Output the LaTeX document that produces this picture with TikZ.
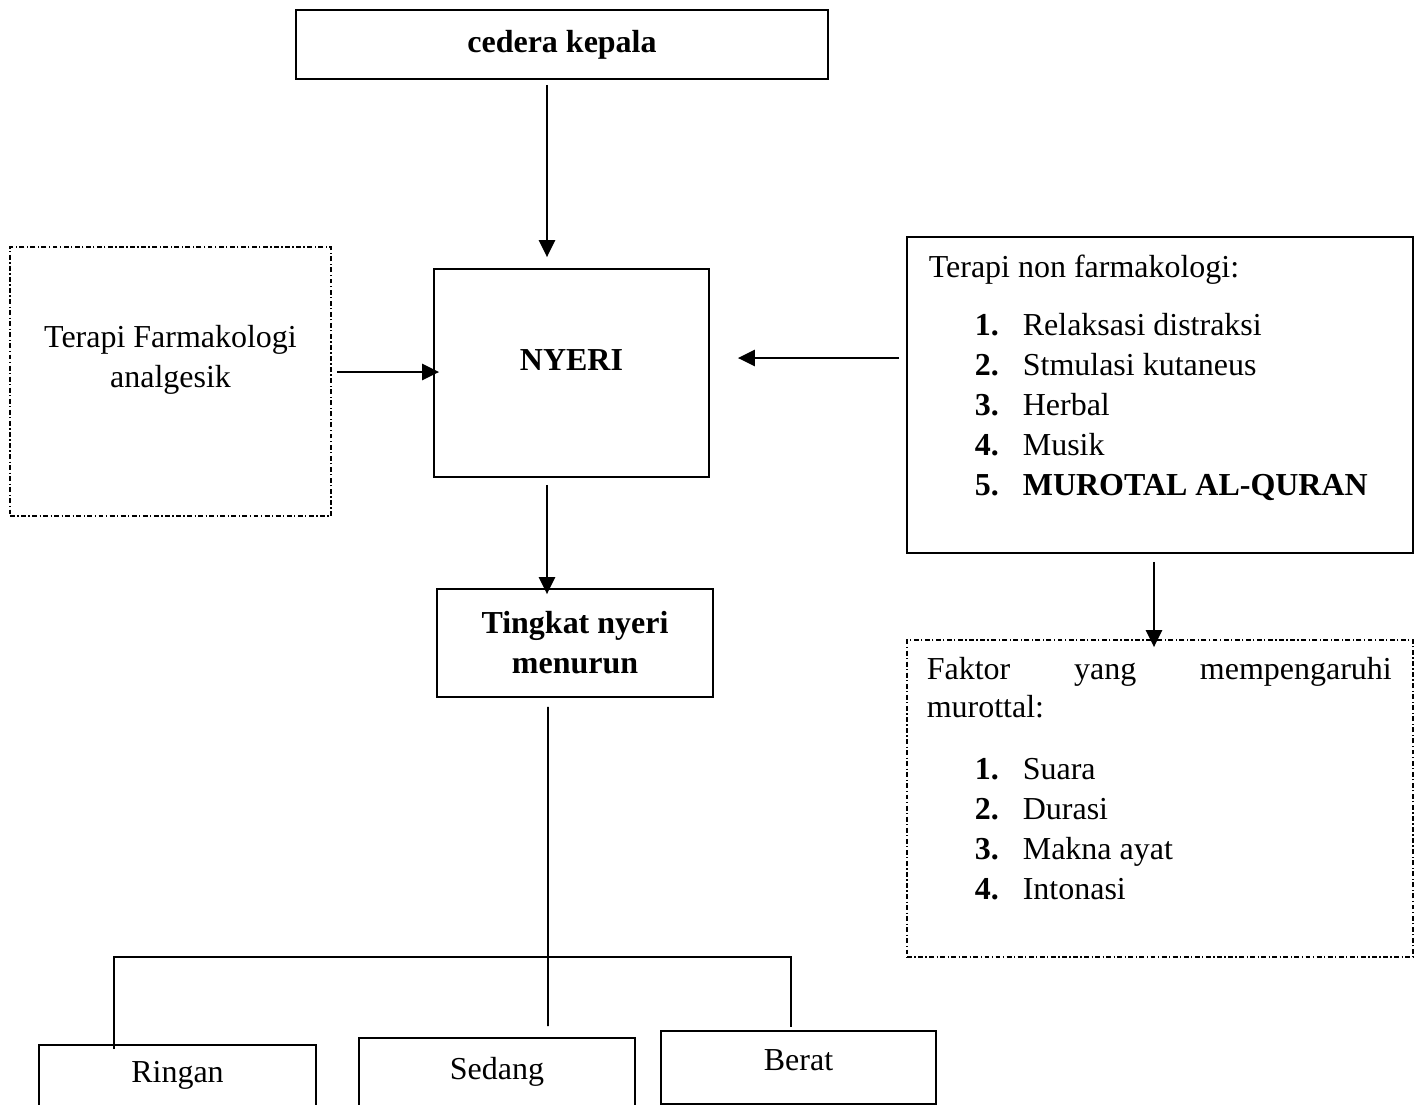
\documentclass[tikz,border=0pt]{standalone}
\usepackage{fontspec}
\setmainfont{Liberation Serif}
\usetikzlibrary{arrows.meta}

\begin{document}
\begin{tikzpicture}[every node/.style={font=\fontsize{9.1}{11.38}\selectfont},
  box/.style={rectangle, draw, line width=0.5pt, inner sep=2pt},
  dotbox/.style={rectangle, draw, line width=0.5pt, dash pattern=on 1.4pt off 0.7pt on 0.35pt off 0.7pt, inner sep=2pt},
  arr/.style={line width=0.7pt, -{Triangle[length=0.17cm,width=0.16cm]}},
  txt/.style={anchor=base west, inner sep=0pt}]
  \useasboundingbox (0,0) rectangle (14.19,-11.05);
  \clip (0,0) rectangle (14.19,-11.05);
  % main boxes
  \node[box, minimum width=5.32cm, minimum height=0.69cm] (cedera) at (5.62,-0.445) {\textbf{cedera kepala}};
  \node[box, minimum width=2.75cm, minimum height=2.08cm] (nyeri) at (5.715,-3.73) {\raisebox{0.03cm}[0pt][0pt]{\textbf{NYERI}}};
  \node[dotbox, minimum width=3.21cm, minimum height=2.69cm] (farma) at (1.705,-3.815)
    {\raisebox{-0.055cm}[0pt][0pt]{\begin{tabular}[b]{@{}c@{}}Terapi Farmakologi\\analgesik\end{tabular}}};
  \node[box, minimum width=5.06cm, minimum height=3.16cm] (nonfarma) at (11.60,-3.95) {};
  \node[dotbox, minimum width=5.06cm, minimum height=3.17cm] (faktor) at (11.60,-7.985) {};
  \node[box, minimum width=2.76cm, minimum height=1.08cm, align=center] (tingkat) at (5.75,-6.43)
    {\textbf{Tingkat nyeri}\\\textbf{menurun}};
  % bottom boxes (cut off by the page edge)
  \node[box, anchor=north, minimum width=2.77cm, minimum height=0.8cm] (ringan) at (1.775,-10.44) {\raisebox{0.023cm}[0pt][0pt]{Ringan}};
  \node[box, anchor=north, minimum width=2.76cm, minimum height=0.8cm] (sedang) at (4.97,-10.37) {\raisebox{-0.013cm}[0pt][0pt]{Sedang}};
  \node[box, anchor=north, minimum width=2.75cm, minimum height=0.73cm] (berat) at (7.985,-10.30) {\raisebox{-0.035cm}[0pt][0pt]{Berat}};
  % list texts
  \node[txt] (nf-head) at ([xshift=0.22cm,yshift=-0.41cm]nonfarma.north west) {Terapi non farmakologi:};
  \foreach \idx/\lbl in {1/Relaksasi distraksi, 2/Stmulasi kutaneus, 3/Herbal, 4/Musik, 5/\textbf{MUROTAL AL-QURAN}} {
    \node[txt] (nf-num-\idx) at ([xshift=0.68cm,yshift={-0.59cm-0.4cm*\idx}]nonfarma.north west) {\textbf{\idx.}};
    \node[txt] (nf-item-\idx) at ([xshift=1.16cm,yshift={-0.59cm-0.4cm*\idx}]nonfarma.north west) {\lbl};
  }
  \node[txt] (fk-head) at ([xshift=0.20cm,yshift=-0.40cm]faktor.north west) {\makebox[4.65cm][s]{Faktor\hfill yang\hfill mempengaruhi}};
  \node[txt] (fk-head2) at ([xshift=0.20cm,yshift=-0.78cm]faktor.north west) {murottal:};
  \foreach \idx/\lbl in {1/Suara, 2/Durasi, 3/Makna ayat, 4/Intonasi} {
    \node[txt] (fk-num-\idx) at ([xshift=0.68cm,yshift={-1.00cm-0.4cm*\idx}]faktor.north west) {\textbf{\idx.}};
    \node[txt] (fk-item-\idx) at ([xshift=1.16cm,yshift={-1.00cm-0.4cm*\idx}]faktor.north west) {\lbl};
  }
  % arrows
  \draw[arr, shorten <=0.05cm, shorten >=0.11cm] ([xshift=-0.15cm]cedera.south) -- ([xshift=-0.245cm]nyeri.north);
  \draw[arr, shorten <=0.05cm, shorten >=-0.06cm] ([yshift=0.095cm]farma.east) -- ([yshift=0.01cm]nyeri.west);
  \draw[arr, shorten <=0.07cm, shorten >=0.28cm] ([yshift=0.37cm]nonfarma.west) -- ([yshift=0.15cm]nyeri.east);
  \draw[arr, shorten <=0.08cm, shorten >=-0.08cm] ([xshift=-0.06cm]nonfarma.south) -- ([xshift=-0.06cm]faktor.north);
  \draw[arr, shorten <=0.07cm, shorten >=-0.06cm] ([xshift=-0.245cm]nyeri.south) -- ([xshift=-0.28cm]tingkat.north);
  % tree lines
  \coordinate (fork) at (5.48,-9.57);
  \draw[line width=0.5pt, shorten <=0.09cm, shorten >=0.11cm] ([xshift=-0.27cm]tingkat.south) -- ([xshift=0.51cm]sedang.north);
  \draw[line width=0.5pt] ([xshift=-0.635cm,yshift=-0.05cm]ringan.north) |- (fork) -| ([xshift=-0.075cm,yshift=0.03cm]berat.north);
\end{tikzpicture}
\end{document}
